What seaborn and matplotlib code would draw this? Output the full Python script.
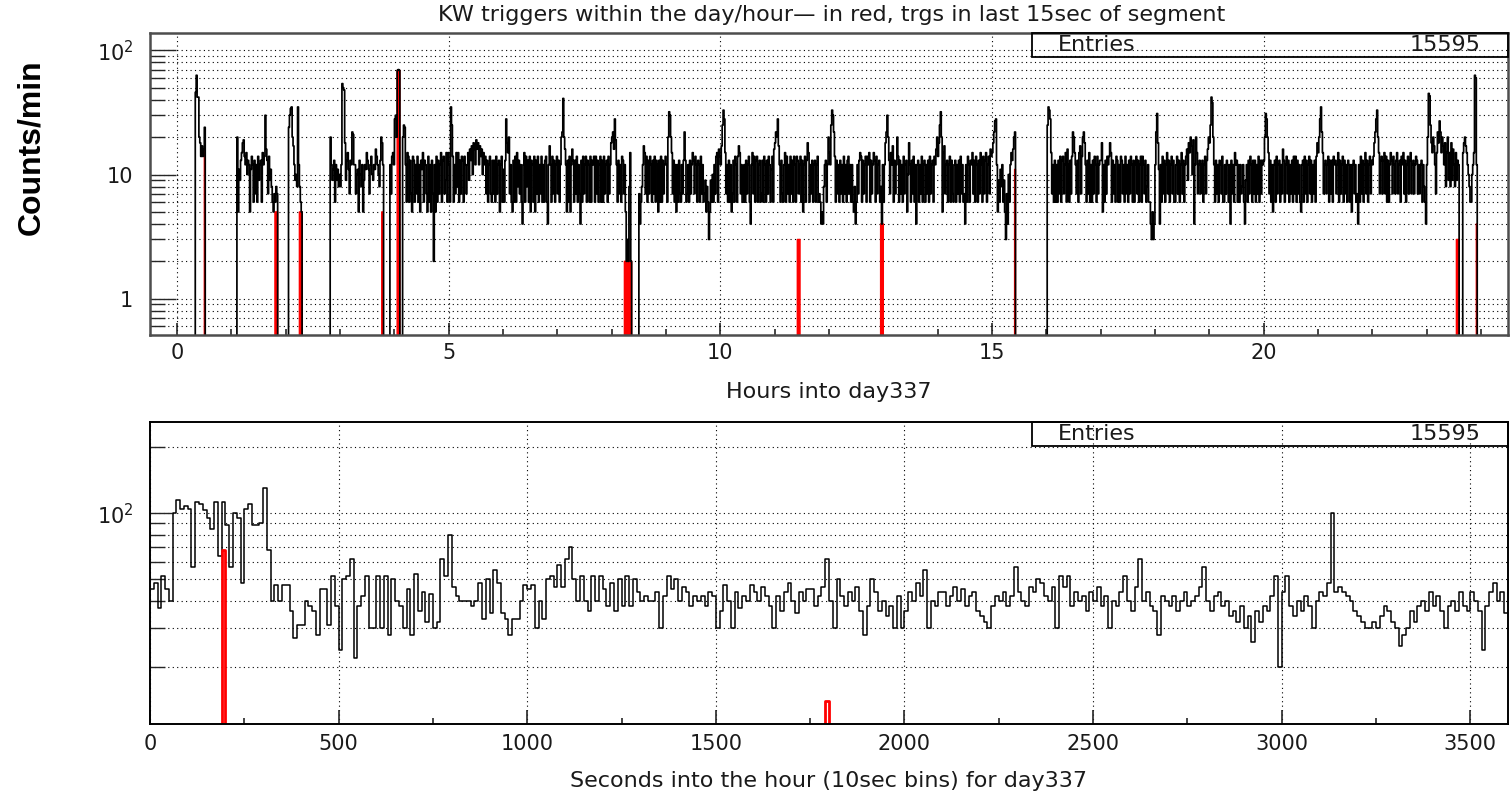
import numpy as np
import pandas as pd
import matplotlib
matplotlib.use("Agg")
import matplotlib.pyplot as plt
import seaborn as sns
from matplotlib.patches import Rectangle
from matplotlib.ticker import FixedLocator, FixedFormatter, NullFormatter

# ---------------- data: top panel, counts per minute (one list per hour) ----------------
h00 = [0]*20 + [46, 63, 42, 42, 20, 18, 14, 17, 14, 16, 24] + [0]*29
h01 = [0]*6 + [20, 5, 11, 9, 13, 15, 18, 19, 14, 12, 15, 10, 13, 12, 5, 11, 14, 12, 6, 13,
               7, 12, 6, 14, 9, 12, 13, 6, 15, 12, 14, 30, 16, 13, 7, 14, 9, 11, 8, 6,
               5, 7, 6, 8, 7] + [0]*9
h02 = [0]*3 + [24, 30, 34, 35, 20, 17, 12, 9, 10, 8, 35, 12, 8, 6, 5] + [0]*31 + \
      [20, 12, 9, 11, 13, 6, 12, 9, 11, 8, 10]
h03 = [8, 12, 54, 50, 48, 18, 9, 13, 15, 11, 7, 13, 12, 22, 21, 12,
       12, 7, 10, 11, 5, 13, 10, 8, 12, 5, 9, 12, 11, 15, 13, 11, 7, 12, 14, 10, 9, 12, 11, 16,
       14, 12, 10, 8, 13, 20, 18, 12] + [0]*7 + [12, 7, 14, 15, 12]
h04 = [28, 30, 20, 69, 70, 69, 0, 0, 0, 20, 25, 24, 12, 6, 15, 14, 6, 13, 7, 5,
       14, 13, 6, 12, 7, 14, 6, 12, 5, 13, 11, 15, 6, 13, 12, 7, 5, 14, 6, 12,
       5, 13, 7, 2, 12, 5, 14, 6, 13, 7, 12, 15, 6, 13, 14, 7, 9, 15, 6, 15]
h05 = [12, 6, 35, 25, 14, 6, 12, 7, 15, 8, 15, 6, 13, 7, 14, 13, 6, 14, 12, 7,
       12, 15, 9, 16, 13, 17, 10, 18, 16, 12, 19, 16, 18, 12, 17, 14, 16, 10, 15, 12,
       14, 7, 13, 6, 12, 14, 7, 6, 13, 7, 13, 6, 14, 7, 12, 13, 5, 12, 14, 6]
h06 = [11, 6, 13, 28, 18, 15, 20, 7, 12, 6, 5, 13, 6, 14, 6, 15, 8, 13, 7, 12,
       6, 4, 12, 15, 6, 14, 8, 13, 6, 14, 5, 13, 12, 6, 14, 5, 13, 7, 14, 6,
       12, 7, 14, 6, 12, 6, 13, 14, 6, 4, 12, 17, 12, 6, 14, 7, 13, 6, 12, 14]
h07 = [7, 13, 6, 12, 20, 22, 41, 20, 16, 12, 5, 13, 6, 14, 5, 12, 16, 13, 6, 13,
       7, 14, 6, 12, 7, 4, 13, 6, 14, 7, 12, 14, 6, 13, 12, 6, 14, 6, 13, 12,
       14, 6, 14, 7, 13, 6, 12, 14, 6, 13, 6, 14, 7, 12, 13, 6, 14, 7, 12, 18]
h08 = [20, 22, 16, 28, 19, 12, 6, 13, 7, 12, 6, 14, 13, 7, 12, 5, 2, 3, 2, 8,
       15, 2, 0, 0, 0, 0, 0, 0, 0, 0, 7, 4, 6, 8, 12, 17, 15, 7, 14, 6,
       13, 7, 14, 12, 6, 13, 7, 14, 6, 13, 12, 5, 13, 6, 14, 6, 13, 7, 12, 14]
h09 = [12, 6, 20, 32, 30, 20, 15, 7, 13, 6, 12, 5, 12, 6, 13, 7, 6, 12, 7, 13,
       22, 13, 6, 7, 12, 6, 13, 7, 12, 15, 13, 7, 14, 12, 6, 13, 12, 6, 14, 7,
       12, 6, 7, 9, 5, 8, 6, 3, 5, 9, 6, 10, 6, 12, 7, 14, 15, 6, 16, 14]
h10 = [12, 17, 25, 33, 28, 15, 7, 12, 6, 13, 6, 12, 5, 7, 13, 6, 14, 12, 6, 14,
       17, 15, 7, 12, 6, 6, 12, 6, 13, 7, 12, 14, 6, 4, 12, 15, 7, 14, 6, 13,
       14, 6, 12, 13, 6, 7, 13, 6, 14, 12, 6, 13, 7, 14, 12, 6, 11, 14, 6, 16]
h11 = [18, 22, 20, 28, 17, 12, 6, 13, 7, 6, 12, 15, 6, 14, 7, 12, 6, 14, 7, 13,
       6, 14, 12, 6, 14, 13, 7, 12, 14, 6, 13, 5, 12, 14, 6, 13, 18, 15, 6, 12,
       7, 13, 6, 12, 13, 6, 12, 14, 6, 7, 6, 4, 5, 4, 8, 12, 13, 6, 12, 20]
h12 = [15, 12, 25, 33, 30, 22, 14, 6, 13, 7, 12, 6, 13, 7, 12, 6, 14, 7, 12, 6,
       13, 14, 7, 12, 6, 12, 6, 5, 8, 4, 6, 12, 7, 13, 15, 14, 6, 13, 7, 12,
       14, 6, 14, 12, 15, 6, 13, 7, 12, 15, 13, 6, 14, 7, 12, 13, 6, 8, 4, 12]
h13 = [6, 12, 18, 22, 30, 20, 13, 7, 15, 12, 17, 6, 13, 7, 12, 20, 14, 6, 13, 7,
       12, 6, 14, 7, 12, 13, 5, 10, 18, 12, 6, 13, 7, 14, 6, 12, 4, 12, 13, 6,
       12, 7, 14, 6, 12, 13, 6, 12, 7, 13, 6, 14, 7, 12, 13, 6, 14, 12, 16, 20]
h14 = [14, 18, 25, 32, 20, 5, 15, 17, 7, 12, 13, 6, 12, 14, 6, 13, 7, 6, 12, 13,
       6, 12, 7, 13, 6, 14, 7, 12, 6, 7, 4, 12, 6, 14, 12, 6, 13, 12, 15, 7,
       13, 6, 14, 12, 6, 13, 7, 15, 12, 6, 14, 7, 13, 15, 6, 12, 14, 7, 16, 14]
h15 = [15, 18, 22, 27, 28, 12, 5, 9, 6, 11, 8, 12, 6, 9, 5, 3, 7, 4, 10, 6,
       12, 15, 13, 16, 20, 22] + [0]*34
h16 = [0, 25, 35, 33, 28, 15, 7, 12, 6, 13, 6, 12, 6, 13, 7, 14, 6, 13, 14, 7,
       12, 15, 6, 16, 12, 6, 13, 7, 14, 22, 20, 15, 12, 7, 13, 6, 15, 17, 7, 14,
       20, 22, 18, 12, 6, 13, 7, 15, 6, 12, 6, 13, 7, 14, 12, 6, 14, 7, 12, 13]
h17 = [13, 18, 5, 12, 6, 13, 7, 14, 12, 14, 18, 15, 6, 13, 7, 12, 6, 14, 13, 6,
       12, 6, 14, 13, 7, 12, 6, 14, 7, 12, 6, 13, 7, 14, 12, 6, 13, 6, 12, 14,
       7, 13, 6, 12, 14, 6, 14, 12, 7, 13, 6, 8, 12, 6, 6, 4, 3, 5, 3, 4]
h18 = [12, 22, 31, 18, 11, 4, 12, 6, 14, 7, 13, 6, 12, 15, 7, 13, 6, 12, 14, 7,
       13, 6, 6, 12, 14, 7, 13, 6, 12, 15, 7, 13, 6, 12, 14, 16, 9, 18, 15, 20,
       17, 10, 19, 4, 12, 20, 15, 7, 12, 13, 7, 12, 13, 6, 12, 14, 7, 13, 16, 20]
h19 = [18, 25, 42, 38, 20, 12, 6, 13, 7, 12, 6, 13, 12, 7, 14, 6, 6, 12, 7, 13,
       12, 6, 12, 4, 13, 7, 12, 6, 15, 12, 13, 6, 12, 6, 12, 7, 8, 12, 6, 4,
       9, 12, 6, 13, 7, 14, 12, 6, 13, 7, 13, 6, 12, 7, 14, 6, 13, 7, 13, 12]
h20 = [13, 20, 31, 28, 20, 15, 7, 13, 6, 12, 5, 12, 13, 6, 14, 7, 12, 13, 6, 12,
       7, 16, 13, 6, 12, 14, 7, 13, 6, 12, 7, 13, 6, 14, 7, 14, 6, 13, 7, 12,
       6, 5, 12, 13, 6, 14, 7, 13, 6, 12, 14, 7, 13, 6, 12, 7, 13, 6, 14, 18]
h21 = [15, 20, 28, 35, 22, 15, 7, 12, 13, 7, 12, 14, 6, 13, 7, 13, 6, 14, 12, 13,
       7, 12, 15, 6, 13, 7, 12, 14, 6, 13, 7, 12, 6, 13, 12, 6, 12, 5, 12, 13,
       7, 12, 6, 7, 4, 12, 6, 14, 7, 13, 6, 12, 15, 7, 13, 6, 12, 14, 7, 13]
h22 = [12, 14, 18, 22, 28, 33, 20, 15, 7, 13, 14, 7, 13, 15, 7, 14, 6, 13, 6, 12,
       15, 13, 7, 14, 12, 7, 13, 15, 7, 12, 13, 6, 14, 12, 15, 7, 13, 6, 12, 14,
       7, 13, 15, 7, 12, 13, 7, 12, 14, 13, 7, 12, 7, 12, 13, 6, 12, 8, 6, 4]
h23 = [12, 20, 45, 43, 25, 18, 15, 20, 17, 12, 7, 15, 22, 18, 27, 22, 15, 20, 17, 12,
       18, 8, 15, 20, 9, 15, 8, 18, 9, 16, 12, 8, 15, 9, 13, 12, 0, 0, 0, 0,
       15, 18, 20, 17, 15, 12, 10, 8, 6, 6, 10, 12, 15, 63, 60, 12, 0, 0, 0, 0]

# triggers in last 15 s of a segment (red), minute index into the day and counts
red_minute = [30, 108, 109, 110, 135, 136, 137, 226, 243, 244, 245,
              494, 495, 496, 497, 498, 499, 500, 501, 685, 686, 687,
              777, 778, 779, 925, 1413, 1414, 1415, 1435]
red_count = [16, 5, 5, 5, 5, 5, 5, 5, 69, 69, 69,
             2, 2, 2, 2, 2, 2, 2, 2, 3, 3, 3,
             4, 4, 4, 11, 3, 3, 3, 4]

# ---------------- data: bottom panel, counts per 10 s bin in the hour ----------------
sec_counts = [
    45, 48, 37, 52, 45, 40, 100, 115, 105, 108, 105, 57, 112, 110, 103, 95, 85, 112, 64, 112,
    88, 57, 100, 95, 48, 105, 110, 88, 88, 90, 130, 68, 40, 47, 40, 47, 47, 36, 27, 31,
    31, 40, 38, 36, 28, 45, 45, 31, 52, 38, 24, 50, 52, 62, 22, 38, 42, 52, 30, 30,
    52, 30, 52, 28, 50, 40, 38, 30, 45, 28, 53, 36, 44, 32, 43, 30, 32, 62, 52, 80,
    46, 42, 40, 40, 40, 38, 40, 48, 33, 50, 35, 55, 48, 35, 33, 28, 33, 33, 40, 47,
    45, 47, 30, 40, 33, 50, 52, 46, 58, 46, 62, 70, 50, 40, 52, 40, 36, 52, 40, 52,
    45, 38, 48, 36, 50, 38, 52, 38, 50, 44, 40, 42, 40, 40, 44, 30, 42, 52, 45, 50,
    40, 46, 44, 38, 42, 40, 42, 38, 44, 42, 30, 36, 47, 40, 30, 44, 37, 42, 40, 47,
    44, 40, 46, 42, 38, 30, 42, 36, 44, 48, 40, 35, 44, 40, 45, 45, 38, 42, 46, 62,
    40, 30, 50, 42, 38, 44, 40, 46, 36, 28, 38, 50, 44, 36, 40, 34, 38, 30, 42, 30,
    36, 44, 40, 48, 42, 55, 30, 40, 38, 44, 44, 38, 42, 46, 40, 45, 38, 42, 44, 36,
    34, 32, 30, 38, 42, 40, 44, 38, 42, 57, 44, 40, 38, 46, 44, 50, 48, 42, 40, 46,
    30, 52, 46, 52, 38, 44, 40, 42, 36, 44, 40, 46, 38, 42, 30, 40, 38, 44, 52, 40,
    36, 46, 62, 40, 44, 38, 36, 28, 42, 40, 38, 42, 36, 40, 44, 38, 40, 42, 46, 57,
    40, 36, 42, 44, 38, 40, 34, 36, 32, 38, 30, 34, 26, 36, 32, 38, 36, 42, 52, 20,
    44, 52, 38, 34, 40, 36, 42, 38, 30, 40, 44, 42, 48, 100, 44, 46, 44, 42, 40, 36,
    34, 32, 30, 30, 32, 30, 34, 38, 36, 32, 30, 25, 28, 30, 36, 32, 38, 40, 36, 44,
    38, 42, 36, 30, 38, 40, 36, 44, 38, 36, 44, 40, 36, 24, 38, 44, 48, 40, 44, 35]
red_sec_bin = [19, 179]
red_sec_count = [68, 14]

entries_label = "Entries"
entries_value = "15595"
title = "KW triggers within the day/hour\u2014 in red, trgs in last 15sec of segment"
xlabel_top = "Hours into day337"
xlabel_bot = "Seconds into the hour (10sec bins) for day337"
ylabel = "Counts/min"
top_xticks = [0, 5, 10, 15, 20]
bot_xticks = [0, 500, 1000, 1500, 2000, 2500, 3000, 3500]

# ---------------- derived tables ----------------
hours = [h00, h01, h02, h03, h04, h05, h06, h07, h08, h09, h10, h11,
         h12, h13, h14, h15, h16, h17, h18, h19, h20, h21, h22, h23]
assert all(len(h) == 60 for h in hours)
top_counts = np.array(sum(hours, []), float)
n_min = len(top_counts)
red_top = np.zeros(n_min)
red_top[red_minute] = red_count
df_top = pd.DataFrame({"hour": (np.arange(n_min) + 0.5) / 60.0,
                       "count": top_counts, "red": red_top})

sec_counts = np.array(sec_counts, float)
n_sec = len(sec_counts)
red_bot = np.zeros(n_sec)
red_bot[red_sec_bin] = red_sec_count
df_bot = pd.DataFrame({"sec": np.arange(n_sec) * 10.0 + 5.0,
                       "count": sec_counts, "red": red_bot})

# ---------------- styling ----------------
sns.set_style("white")
plt.rcParams['font.family'] = ['DejaVu Sans']
plt.rcParams['mathtext.fontset'] = 'dejavusans'
TXT = '#1a1a1a'

W, H = 1512, 793
fig = plt.figure(figsize=(W / 100, H / 100), dpi=100)
ax1 = fig.add_axes([150 / W, 1 - 335 / H, 1358 / W, 302 / H])
ax2 = fig.add_axes([150 / W, 1 - 724 / H, 1358 / W, 302 / H])

for ax in (ax1, ax2):
    ax.set_yscale('log', nonpositive='clip')

grid_kw = dict(color='black', linestyle=(0, (1, 3)), linewidth=0.8)

# ---- top panel ----
sns.histplot(data=df_top, x="hour", weights="count", bins=n_min, binrange=(0, 24),
             element='step', fill=False, color='black', linewidth=1.25, ax=ax1)
sns.histplot(data=df_top, x="hour", weights="red", bins=n_min, binrange=(0, 24),
             element='step', fill=True, color='red', alpha=1.0, linewidth=1.0,
             edgecolor='red', ax=ax1)
ax1.set_xlim(-0.5, 24.5)
ax1.set_ylim(0.51, 138)

ax1.xaxis.set_major_locator(FixedLocator(top_xticks))
ax1.xaxis.set_minor_locator(FixedLocator([h for h in range(0, 25) if h % 5]))
ax1.yaxis.set_major_locator(FixedLocator([1, 10, 100]))
ax1.yaxis.set_major_formatter(FixedFormatter(['1', '10', r'$\mathregular{10^{2}}$']))
ax1.yaxis.set_minor_locator(FixedLocator([0.6, 0.7, 0.8, 0.9] + list(range(2, 10)) +
                                         list(range(20, 100, 10))))
ax1.yaxis.set_minor_formatter(NullFormatter())
ax1.tick_params(axis='x', which='major', direction='in', length=9, width=1.2, pad=6,
                labelsize=15, labelcolor=TXT, bottom=True, top=False)
ax1.tick_params(axis='x', which='minor', direction='in', length=4.5, width=1.2, bottom=True, top=False)
ax1.tick_params(axis='y', which='major', direction='in', length=19, width=1.0, pad=12,
                labelsize=15, labelcolor=TXT, left=True, right=False)
ax1.tick_params(axis='y', which='minor', direction='in', length=11, width=1.0, left=True, right=False)
ax1.grid(True, which='both', axis='y', **grid_kw)
ax1.grid(True, which='major', axis='x', **grid_kw)
for s in ax1.spines.values():
    s.set_color('#4d4d4d')
    s.set_linewidth(1.8)

# ---- bottom panel ----
sns.histplot(data=df_bot, x="sec", weights="count", bins=n_sec, binrange=(0, 3600),
             element='step', fill=False, color='black', linewidth=1.1, ax=ax2)
sns.histplot(data=df_bot, x="sec", weights="red", bins=n_sec, binrange=(0, 3600),
             element='step', fill=False, color='red', linewidth=2.0, ax=ax2)
ax2.set_xlim(0, 3600)
ax2.set_ylim(11, 260)
ax2.xaxis.set_major_locator(FixedLocator(bot_xticks))
ax2.xaxis.set_minor_locator(FixedLocator(list(range(250, 3600, 500))))
ax2.yaxis.set_major_locator(FixedLocator([100]))
ax2.yaxis.set_major_formatter(FixedFormatter([r'$\mathregular{10^{2}}$']))
ax2.yaxis.set_minor_locator(FixedLocator(list(range(20, 100, 10)) + [200]))
ax2.yaxis.set_minor_formatter(NullFormatter())
ax2.tick_params(axis='x', which='major', direction='in', length=10, width=1.2, pad=7,
                labelsize=15, labelcolor=TXT, bottom=True, top=False)
ax2.tick_params(axis='x', which='minor', direction='in', length=4.5, width=1.2, bottom=True, top=False)
ax2.tick_params(axis='y', which='major', direction='in', length=16, width=1.0, pad=12,
                labelsize=15, labelcolor=TXT, left=True, right=False)
ax2.tick_params(axis='y', which='minor', direction='in', length=11, width=1.0, left=True, right=False)
ax2.grid(True, which='both', axis='y', **grid_kw)
ax2.grid(True, which='major', axis='x', **grid_kw)
for s in ax2.spines.values():
    s.set_color('black')
    s.set_linewidth(1.4)

for ax in (ax1, ax2):
    ax.set_xlabel('')
    ax.set_ylabel('')
    bx0 = (1032 - 150) / 1358
    by0 = (335 - 57) / 302
    ax.add_patch(Rectangle((bx0, by0), 1 - bx0, 1 - by0, transform=ax.transAxes,
                           fill=False, edgecolor='black', linewidth=1.3, clip_on=False, zorder=5))
    ax.text((1058 - 150) / 1358, (by0 + 1) / 2, entries_label, transform=ax.transAxes,
            ha='left', va='center', fontsize=16, color=TXT, zorder=6)
    ax.text((1481 - 150) / 1358, (by0 + 1) / 2, entries_value, transform=ax.transAxes,
            ha='right', va='center', fontsize=16, color=TXT, zorder=6)

fig.text(832 / W, 1 - 15 / H, title, ha='center', va='center', fontsize=16, color=TXT)
fig.text(829 / W, 1 - 392 / H, xlabel_top, ha='center', va='center', fontsize=16, color=TXT)
fig.text(829 / W, 1 - 781 / H, xlabel_bot, ha='center', va='center', fontsize=16, color=TXT)
fig.text(31 / W, 1 - 147 / H, ylabel, rotation=90, ha='center', va='center', fontsize=23,
         fontweight='bold', family=['Liberation Sans', 'DejaVu Sans'], color='black')

fig.savefig('out.png', dpi=100)
